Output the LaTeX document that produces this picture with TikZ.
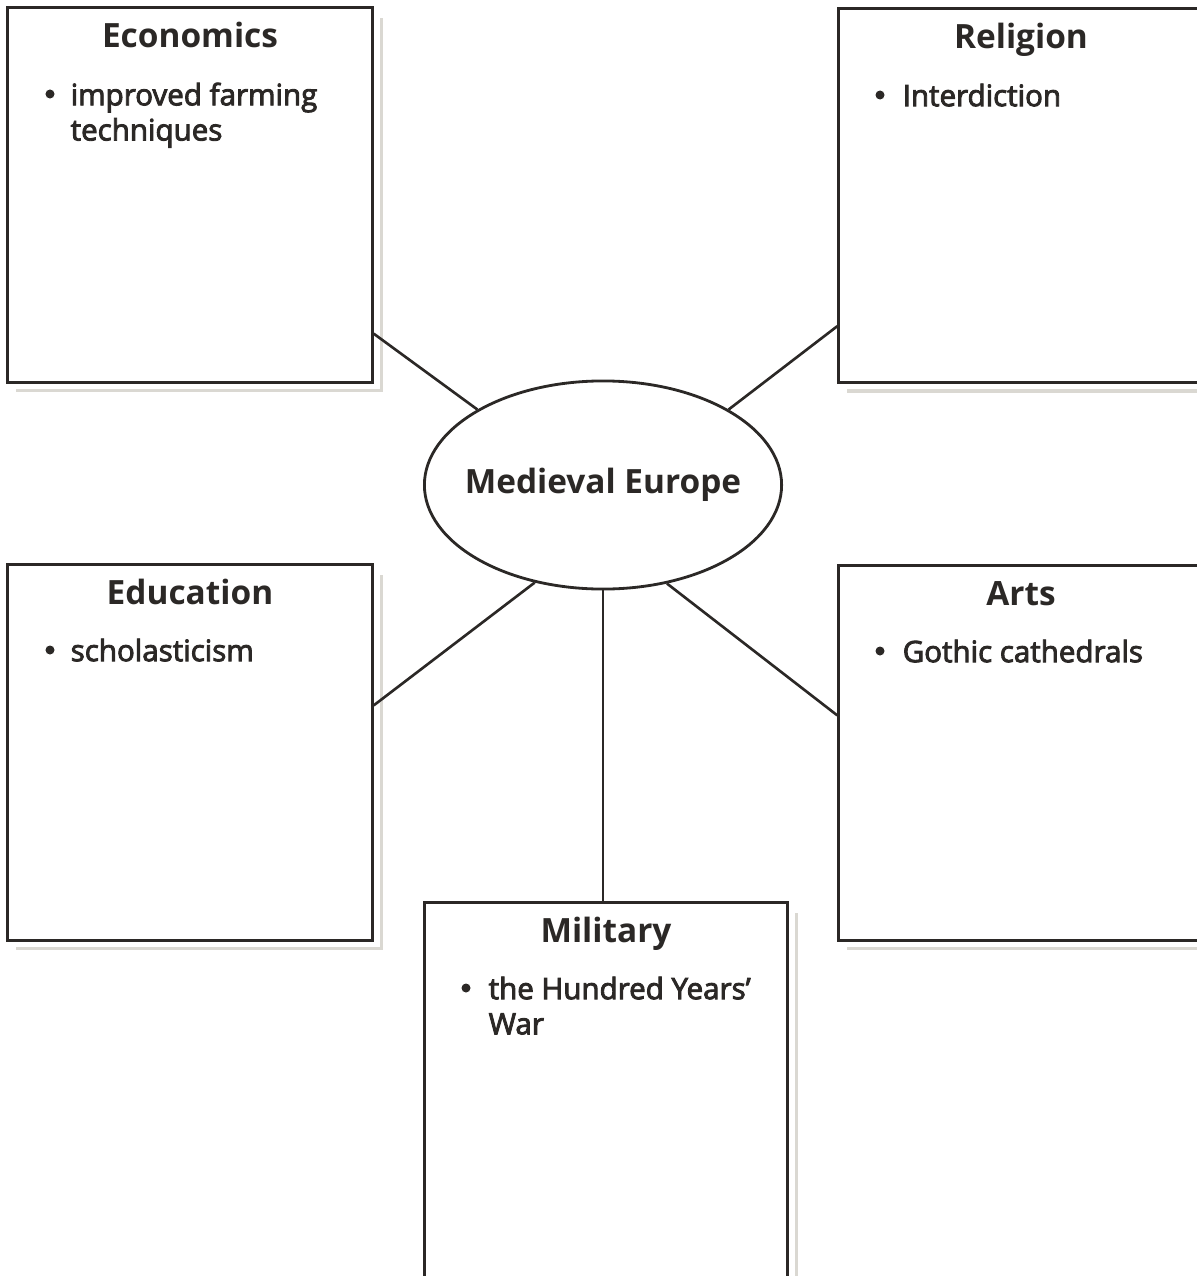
\documentclass[tikz,border=0pt]{standalone}
\usepackage{fontspec}
\setmainfont{Open Sans}
\newfontfamily\itemfont{Open Sans}[FakeBold=3]
\usetikzlibrary{shapes.geometric,positioning}
\definecolor{ink}{HTML}{2B2826}
\definecolor{shade}{HTML}{DAD8D2}
\tikzset{
  catbox/.style={draw=ink, line width=0.9pt, minimum width=3.64cm, minimum height=3.74cm, inner sep=0pt},
  hub/.style={ellipse, draw=ink, line width=0.8pt, minimum width=3.57cm, minimum height=2.08cm, inner sep=0pt,
    font=\fontsize{9.5}{11}\selectfont\bfseries, text=ink},
  heading/.style={anchor=base, inner sep=0pt, font=\fontsize{9.5}{11}\selectfont\bfseries, text=ink},
  item/.style={anchor=north west, inner sep=0pt, align=left, font=\fontsize{8.4}{10}\selectfont\itemfont, text=ink},
  dot/.style={circle, fill=ink, inner sep=0pt, minimum size=0.9mm},
  spoke/.style={draw=ink, line width=0.75pt},
  shadowline/.style={draw=shade, line width=1pt},
}
\begin{document}
\begin{tikzpicture}[x=0.01cm, y=-0.01cm]
    \useasboundingbox (0,0) rectangle (1196,1276);

    % boxes
    \node[catbox] (econ) at (190,195) {};
    \node[catbox] (relig) at (1021,195.5) {};
    \node[catbox, minimum height=3.75cm] (edu) at (190,752.5) {};
    \node[catbox] (arts) at (1021,753) {};
    \node[catbox, minimum width=3.62cm, minimum height=4cm] (mil) at (606,1103) {};

    \foreach \b in {econ,relig,edu,arts,mil}
        \draw[shadowline] ([shift={(8,12)}]\b.north east) |- ([shift={(10,7)}]\b.south west);

    % centre
    \node[hub] (hub) at (603,485) {\makebox[0pt]{Medieval Europe}};

    % headings
    \node[heading] (econH) at (190,48) {Economics};
    \node[heading] (religH) at (1021,49) {Religion};
    \node[heading] (eduH) at (190,604) {Education};
    \node[heading] (artsH) at (1021,605) {Arts};
    \node[heading] (milH) at (606,942) {Military};

    % items
    \node[dot] (econD) at (50,94) {};
    \node[item] (econI) at (70,82) {improved farming\\techniques};
    \node[dot] (religD) at (880,95) {};
    \node[item] (religI) at (902,83) {Interdiction};
    \node[dot] (eduD) at (50,650) {};
    \node[item] (eduI) at (70,638) {scholasticism};
    \node[dot] (artsD) at (880,651) {};
    \node[item] (artsI) at (902,639) {Gothic cathedrals};
    \node[dot] (milD) at (466,988) {};
    \node[item] (milI) at (488,976) {the Hundred Years’\\War};

    % spokes
    \draw[spoke] (hub.149) -- ([yshift=0.5cm]econ.south east);
    \draw[spoke] (hub.31) -- ([yshift=0.58cm]relig.south west);
    \draw[spoke] (hub.235) -- ([yshift=-1.42cm]edu.north east);
    \draw[spoke] (hub.303) -- ([yshift=-1.51cm]arts.north west);
    \draw[spoke] (hub.south) -- (hub.south |- mil.north);
\end{tikzpicture}
\end{document}
